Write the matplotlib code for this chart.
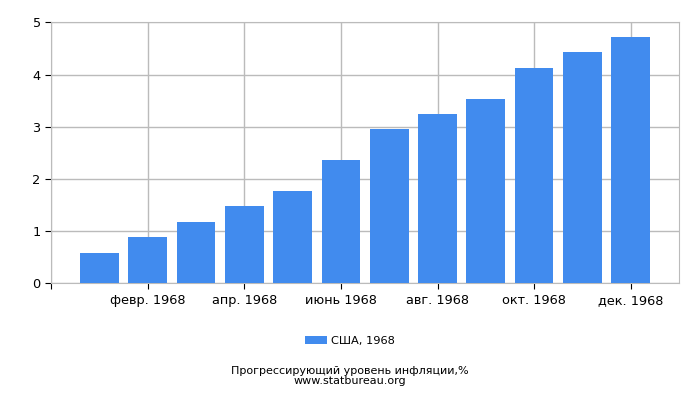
import matplotlib
matplotlib.use('Agg')
import matplotlib.pyplot as plt
import numpy as np

## US INFLATION 1968, CUMULATIVE
months = ['янв. 1968', 'февр. 1968', 'март 1968', 'апр. 1968', 'май 1968', 'июнь 1968',
          'июль 1968', 'авг. 1968', 'сент. 1968', 'окт. 1968', 'нояб. 1968', 'дек. 1968']
values = [0.58, 0.89, 1.17, 1.48, 1.77, 2.36, 2.95, 3.24, 3.53, 4.12, 4.43, 4.72]
series_label = 'США, 1968'
caption = 'Прогрессирующий уровень инфляции,%\nwww.statbureau.org'

fig = plt.figure(figsize=(7, 4), dpi=100)
ax = fig.add_axes([0.073, 0.292, 0.897, 0.652])

x = np.arange(len(months))
bars = ax.bar(x, values, width=0.8, color='#418bee', label=series_label, zorder=3)

ax.set_xlim(-1, len(months))
ax.set_ylim(0, 5)
ax.set_yticks(range(6))

# only every second month is labelled
tick_pos = x[1::2]
ax.set_xticks(np.concatenate([[-1], tick_pos]))
ax.set_xticklabels([''] + [months[i] for i in tick_pos], fontsize=9.3)
ax.tick_params(axis='y', labelsize=9.3, length=4, color='black')
ax.tick_params(axis='x', length=4, color='black')

ax.grid(True, color='#bbbbbb', linewidth=1, zorder=0)
for side in ax.spines:
    ax.spines[side].set_color('#bbbbbb')

fig.legend(handles=[bars], labels=[series_label], loc='center',
           bbox_to_anchor=(0.5, 0.148), frameon=False, fontsize=8.2,
           handlelength=1.9, handleheight=0.8, handletextpad=0.4)
fig.text(0.5, 0.06, caption, ha='center', va='center', fontsize=8, linespacing=0.95)

fig.savefig('out.png', dpi=100)
